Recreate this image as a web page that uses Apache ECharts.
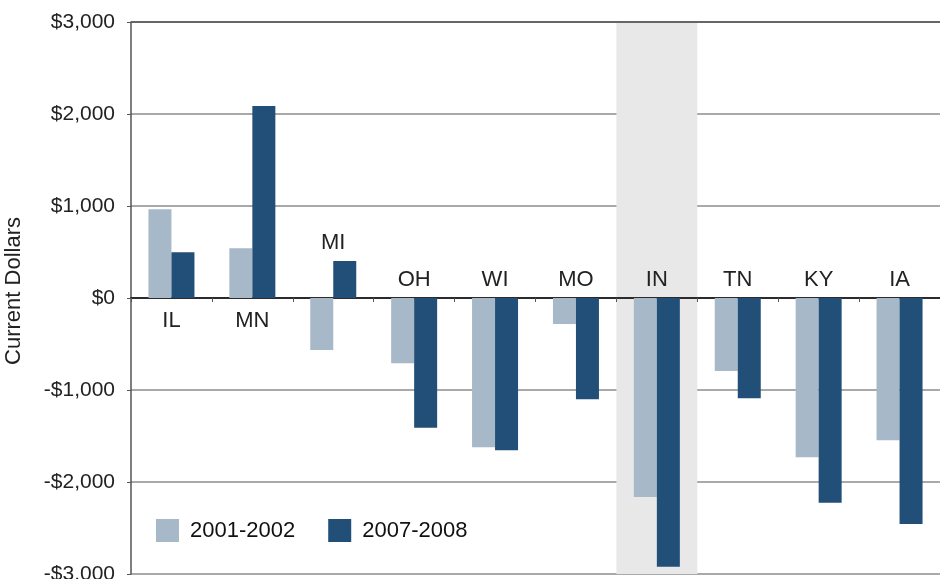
<!DOCTYPE html>
<html>
<head>
<meta charset="utf-8">
<script src="https://cdn.jsdelivr.net/npm/echarts@6/dist/echarts.min.js"></script>
<style>
  html, body { margin: 0; padding: 0; background: #fff; }
  #chart { width: 940px; height: 579px; }
</style>
</head>
<body>
<div id="chart"></div>
<script>
// data
const states = ['IL', 'MN', 'MI', 'OH', 'WI', 'MO', 'IN', 'TN', 'KY', 'IA']
const years0102 = [965, 540, -565, -710, -1623, -283, -2163, -793, -1732, -1547]
const years0708 = [497, 2087, 402, -1410, -1655, -1101, -2920, -1090, -2225, -2457]
const yTicks = [-3000, -2000, -1000, 0, 1000, 2000, 3000]
const highlighted = ['IN']

const LIGHT = '#a7b8c9'
const DARK = '#224f77'
const FONT = 'Liberation Sans'

const chart = echarts.init(document.getElementById('chart'))

// format axis value like $1,000 / -$2,000
const fmtMoney = v => {
  const s = '$' + Math.abs(v).toLocaleString('en-US')
  return v < 0 ? '-' + s : s
}

// state labels sit above the bars (or below zero when both bars are positive)
const labelData = states.map((s, i) => {
  const hi = Math.max(years0102[i], years0708[i])
  const lo = Math.min(years0102[i], years0708[i])
  return lo >= 0 ? [i, 0, 1] : [i, Math.max(0, hi), 0]
})

const option = {
  animation: false,
  grid: { left: 131, right: 0, top: 22, bottom: 5, outerBoundsMode: 'none', containLabel: false },
  legend: {
    data: ['2001-2002', '2007-2008'],
    left: 156,
    top: 519,
    padding: 0,
    icon: 'rect',
    itemWidth: 23,
    itemHeight: 23,
    itemGap: 33,
    textStyle: { fontFamily: FONT, fontSize: 22, color: '#111', padding: [0, 0, 0, 6] }
  },
  xAxis: {
    type: 'category',
    data: states,
    axisLine: { onZero: true, lineStyle: { color: '#2b2b2b', width: 2 } },
    axisTick: { show: true, length: 4, lineStyle: { color: '#555', width: 1 } },
    axisLabel: { show: false },
    splitLine: { show: false }
  },
  yAxis: {
    type: 'value',
    min: -3000,
    max: 3000,
    interval: 1000,
    name: 'Current Dollars',
    nameLocation: 'middle',
    nameGap: 106,
    nameTextStyle: { fontFamily: FONT, fontSize: 22, color: '#222', padding: [0, 0, 0, 14] },
    axisLine: { show: true, lineStyle: { color: '#555', width: 1.5 } },
    axisTick: { show: true, length: 4, lineStyle: { color: '#555', width: 1 } },
    axisLabel: {
      fontFamily: FONT, fontSize: 21, color: '#222', margin: 16,
      formatter: v => fmtMoney(v)
    },
    splitLine: {
      show: true,
      lineStyle: {
        color: yTicks.map(t => (t === 3000 || t === 0 ? '#333' : '#8c8c8c')),
        width: 1.5
      }
    }
  },
  series: [
    {
      type: 'custom',
      name: 'band',
      silent: true,
      z: 0,
      data: highlighted.map(s => [states.indexOf(s)]),
      renderItem: (params, api) => {
        const cs = params.coordSys
        const cx = api.coord([api.value(0), 0])[0]
        const w = api.size([1, 0])[0]
        return {
          type: 'rect',
          shape: { x: cx - w / 2, y: cs.y + 1, width: w, height: cs.height - 1 },
          style: { fill: '#e8e8e8' }
        }
      }
    },
    {
      name: '2001-2002',
      type: 'bar',
      data: years0102,
      barWidth: 23,
      barGap: '0%',
      z: 3,
      itemStyle: { color: LIGHT }
    },
    {
      name: '2007-2008',
      type: 'bar',
      data: years0708,
      barWidth: 23,
      barGap: '0%',
      z: 3,
      itemStyle: { color: DARK }
    },
    {
      type: 'custom',
      name: 'labels',
      silent: true,
      z: 4,
      data: labelData,
      renderItem: (params, api) => {
        const p = api.coord([api.value(0), api.value(1)])
        const below = api.value(2) === 1
        return {
          type: 'text',
          x: p[0],
          y: below ? p[1] + 12 : p[1] - 7,
          style: {
            text: states[api.value(0)],
            fontFamily: FONT,
            fontSize: 22,
            fill: '#222',
            align: 'center',
            verticalAlign: below ? 'top' : 'bottom'
          }
        }
      }
    }
  ]
}

chart.setOption(option)
</script>
</body>
</html>
